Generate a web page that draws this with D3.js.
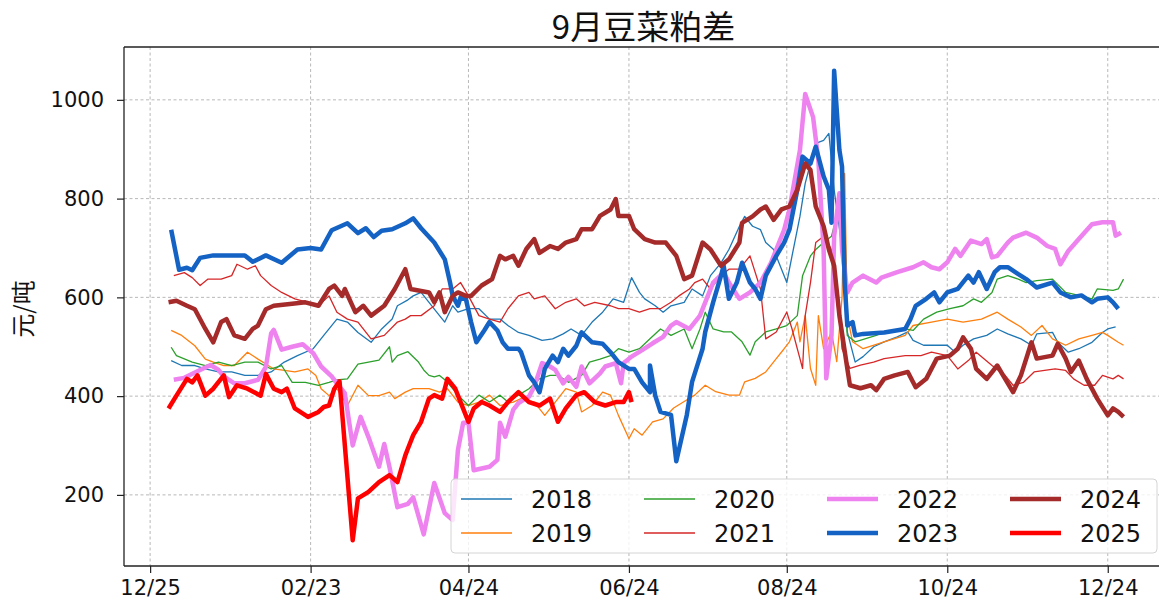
<!DOCTYPE html>
<html>
<head>
<meta charset="utf-8">
<script src="https://cdn.jsdelivr.net/npm/d3@7"></script>
<style>
  html, body { margin: 0; padding: 0; background: #fff; }
  svg { display: block; }
</style>
</head>
<body>
<svg id="chart" width="1159" height="601"></svg>
<script>
// ---- DATA (x = day of year, Jan 1 = 1; y = 元/吨) ----
const years = ["2018", "2019", "2020", "2021", "2022", "2023", "2024", "2025"];
const colors = ["#1f77b4", "#ff7f0e", "#2ca02c", "#d62728", "#ee82ee", "#1462c4", "#a52a2a", "#ff0000"];
const widths = [1.3, 1.3, 1.3, 1.3, 4.5, 4.5, 4.5, 4.5];

const xTickDays = [-6, 55, 115, 176, 236, 297, 358];
const xTickLabels = ["12/25", "02/23", "04/24", "06/24", "08/24", "10/24", "12/24"];
const yTicks = [200, 400, 600, 800, 1000];

const s2018 = [[2,472],[6,462],[11,462],[15,455],[20,449],[25,449],[30,442],[35,442],[40,449],[45,469],[50,482],[56,496],[60,523],[65,556],[69,550],[73,529],[78,509],[82,536],[86,556],[88,583],[92,595],[94,603],[97,610],[100,590],[104,563],[106,550],[109,583],[111,570],[115,577],[119,577],[123,556],[127,556],[130,543],[134,529],[138,523],[143,513],[147,516],[151,526],[154,536],[158,523],[162,550],[166,570],[170,597],[174,590],[177,640],[180,610],[182,597],[186,583],[189,570],[192,583],[197,590],[200,617],[204,603],[207,644],[211,670],[214,697],[218,744],[220,764],[223,744],[226,737],[228,711],[231,697],[234,657],[236,630],[238,684],[241,764],[243,831],[247,912],[250,918],[252,932],[254,818],[257,700],[259,530],[262,469],[265,480],[269,500],[273,510],[278,520],[282,530],[284,513],[288,503],[297,503],[300,489],[303,503],[307,516],[312,523],[316,536],[320,526],[325,516],[329,503],[331,526],[337,529],[339,509],[343,489],[347,496],[352,509],[356,529],[358,536],[361,540]];

const s2019 = [[2,533],[6,523],[11,502],[15,475],[18,469],[22,462],[26,462],[31,489],[35,475],[38,465],[41,455],[45,452],[49,449],[54,455],[57,442],[59,415],[62,401],[65,415],[69,381],[73,422],[77,401],[81,401],[85,408],[87,395],[91,408],[94,415],[100,415],[104,408],[107,415],[111,388],[115,381],[119,388],[123,402],[127,381],[132,388],[135,395],[140,388],[144,361],[148,388],[152,415],[156,408],[158,368],[162,381],[166,408],[169,402],[172,361],[176,314],[178,334],[181,321],[185,348],[189,354],[193,376],[197,389],[201,402],[205,422],[209,409],[214,402],[218,402],[220,429],[224,436],[228,449],[232,476],[235,496],[237,510],[240,550],[241,510],[243,563],[245,456],[247,422],[248,563],[250,496],[253,530],[255,470],[257,600],[258,851],[259,563],[261,510],[265,496],[273,510],[281,523],[284,543],[291,550],[297,556],[303,550],[310,556],[316,570],[320,556],[325,540],[329,523],[333,543],[337,516],[342,503],[347,516],[352,523],[356,529],[358,523],[362,509],[364,503]];

const s2020 = [[2,499],[4,482],[10,469],[15,462],[20,469],[25,462],[30,469],[35,469],[40,455],[44,462],[48,428],[53,428],[58,422],[62,428],[65,433],[69,435],[73,465],[77,469],[81,473],[85,500],[86,469],[88,482],[92,490],[96,469],[98,453],[100,442],[102,439],[104,442],[106,433],[107,428],[111,402],[115,381],[119,402],[123,388],[127,402],[130,388],[134,402],[138,415],[142,435],[146,442],[149,442],[153,428],[158,442],[161,469],[165,475],[169,482],[172,496],[176,489],[180,496],[184,516],[188,536],[192,523],[197,536],[200,496],[203,536],[205,570],[208,536],[212,530],[215,530],[219,510],[222,483],[224,510],[228,530],[232,536],[236,543],[240,563],[242,644],[245,684],[247,697],[250,711],[253,724],[254,744],[256,764],[259,523],[262,510],[270,523],[273,530],[281,536],[284,533],[288,556],[293,570],[298,577],[303,583],[307,597],[310,590],[314,610],[316,637],[320,644],[324,637],[327,630],[331,634],[337,637],[342,610],[347,604],[352,597],[354,617],[360,614],[362,617],[364,637]];

const s2021 = [[3,644],[7,650],[10,640],[13,624],[16,637],[21,637],[25,644],[27,667],[31,657],[34,664],[36,644],[40,624],[44,610],[49,597],[54,590],[58,583],[62,603],[65,570],[69,556],[73,550],[78,516],[83,523],[88,550],[91,556],[93,563],[97,563],[102,583],[105,617],[109,617],[112,630],[115,603],[119,563],[123,556],[127,550],[130,577],[134,603],[138,610],[140,597],[144,603],[148,577],[152,590],[156,597],[159,583],[163,590],[169,583],[172,577],[176,577],[180,570],[184,577],[188,577],[192,590],[195,603],[199,617],[201,630],[204,637],[207,617],[211,644],[214,657],[218,657],[222,684],[226,617],[228,516],[232,530],[236,570],[238,536],[241,476],[242,456],[243,563],[245,630],[247,711],[250,724],[253,697],[255,630],[257,496],[260,456],[264,463],[269,469],[273,476],[281,482],[287,482],[291,489],[297,482],[301,455],[305,472],[308,489],[314,462],[319,442],[322,422],[326,428],[330,449],[334,452],[338,455],[342,452],[345,435],[349,422],[353,422],[356,442],[360,435],[362,442],[364,435]];

const s2022 = [[3,433],[7,437],[13,453],[17,463],[20,453],[22,440],[26,426],[30,426],[35,433],[38,459],[40,527],[41,534],[44,494],[48,500],[52,505],[56,487],[59,460],[63,440],[65,426],[68,406],[71,300],[74,358],[77,317],[81,257],[83,303],[85,256],[88,175],[92,182],[94,195],[98,120],[102,224],[106,163],[109,149],[111,291],[113,346],[115,346],[117,250],[123,257],[126,271],[127,346],[129,318],[132,372],[134,386],[138,399],[140,419],[143,467],[146,460],[148,453],[151,426],[153,439],[156,419],[158,460],[161,426],[165,446],[167,460],[171,467],[173,426],[174,467],[177,480],[181,493],[185,507],[189,520],[192,543],[194,550],[199,536],[203,563],[205,590],[208,630],[212,650],[214,630],[218,597],[222,610],[226,630],[230,670],[232,697],[235,737],[237,778],[241,898],[243,1012],[246,965],[248,878],[250,697],[251,436],[253,523],[254,724],[256,811],[257,697],[259,610],[261,630],[265,644],[270,630],[272,640],[278,651],[284,661],[288,671],[291,661],[294,657],[297,671],[300,698],[302,684],[306,715],[310,708],[312,718],[314,681],[316,684],[320,711],[322,721],[327,731],[331,721],[335,704],[338,698],[340,667],[343,694],[347,718],[352,748],[356,752],[360,752],[361,725],[363,731]];

const s2023 = [[2,737],[5,656],[8,660],[10,655],[13,680],[18,685],[25,685],[30,685],[33,672],[38,685],[44,670],[50,697],[55,700],[59,697],[63,736],[69,750],[73,730],[76,740],[79,722],[82,735],[86,738],[91,750],[94,760],[97,740],[102,711],[106,677],[108,630],[109,603],[111,583],[112,600],[114,597],[116,550],[118,509],[121,533],[123,550],[126,533],[128,509],[130,496],[134,496],[135,489],[138,442],[140,428],[142,408],[144,455],[147,482],[149,469],[151,496],[153,482],[156,502],[158,529],[162,509],[166,506],[169,489],[172,469],[176,455],[178,455],[181,428],[184,408],[184,462],[186,401],[188,368],[192,362],[194,268],[198,362],[200,429],[204,496],[205,530],[208,590],[211,644],[212,664],[214,597],[217,630],[219,670],[222,630],[224,617],[226,597],[228,644],[232,684],[235,711],[237,737],[240,818],[242,885],[245,871],[247,905],[250,845],[252,818],[253,751],[254,1059],[256,898],[257,865],[258,630],[259,543],[261,550],[262,523],[265,526],[273,529],[281,536],[283,556],[285,583],[289,597],[292,610],[294,590],[297,610],[301,617],[305,644],[307,630],[309,651],[312,617],[315,651],[317,661],[320,661],[324,647],[327,637],[331,620],[337,630],[340,610],[344,600],[348,604],[352,590],[354,597],[358,600],[360,590],[362,577]];

const s2024 = [[1,590],[4,593],[8,583],[11,576],[15,536],[18,509],[21,550],[23,556],[26,523],[30,516],[33,536],[35,543],[38,576],[41,583],[48,587],[53,590],[58,583],[62,617],[64,624],[67,603],[68,617],[72,570],[75,583],[78,563],[83,583],[87,617],[91,657],[93,617],[96,614],[100,610],[102,590],[104,610],[106,570],[109,603],[111,610],[114,603],[116,603],[120,624],[124,637],[127,684],[129,677],[132,684],[134,664],[137,698],[140,718],[142,690],[146,704],[149,698],[152,711],[156,718],[158,738],[162,738],[165,765],[169,778],[171,799],[172,765],[176,765],[178,738],[182,718],[186,711],[190,711],[194,684],[197,637],[200,644],[204,711],[207,697],[211,664],[214,677],[218,711],[219,751],[223,764],[226,778],[228,784],[231,757],[234,778],[237,784],[240,818],[243,871],[245,858],[247,784],[250,744],[252,697],[254,664],[256,563],[259,456],[260,422],[264,416],[268,422],[270,412],[273,435],[277,442],[282,449],[285,418],[289,435],[293,476],[298,482],[301,496],[303,519],[306,496],[308,455],[312,435],[316,462],[319,435],[322,408],[325,442],[329,509],[331,476],[337,482],[339,506],[342,476],[344,449],[347,472],[350,435],[354,395],[358,361],[360,375],[362,368],[364,358]];

const s2025 = [[1,375],[4,401],[8,435],[10,428],[12,442],[15,401],[18,415],[22,442],[24,398],[27,422],[31,415],[36,401],[38,445],[41,415],[44,408],[46,415],[49,375],[54,358],[58,368],[60,378],[62,381],[64,415],[66,430],[71,108],[73,193],[77,206],[81,226],[85,240],[88,226],[91,280],[92,294],[94,321],[97,348],[100,395],[102,402],[105,395],[107,435],[110,415],[112,388],[115,348],[117,375],[120,388],[123,381],[127,368],[130,388],[134,408],[138,388],[142,381],[146,395],[149,348],[152,375],[156,402],[159,408],[163,388],[167,381],[171,388],[174,388],[176,408],[177,388]];

const seriesData = [s2018, s2019, s2020, s2021, s2022, s2023, s2024, s2025];

// ---- LAYOUT ----
const svg = d3.select("#chart");
const L = 124, T = 47, B = 566, R = 1163;
const x = d3.scaleLinear().domain([-15.93, 379.0]).range([L, R]);
const y = d3.scaleLinear().domain([56, 1107]).range([B, T]);

svg.append("defs").append("clipPath").attr("id", "plotclip")
  .append("rect").attr("x", L).attr("y", T).attr("width", R - L).attr("height", B - T);

// grid
const grid = svg.append("g").attr("stroke", "#b0b0b0").attr("stroke-width", 0.9).attr("stroke-dasharray", "3,2.5");
grid.selectAll(".vg").data(xTickDays).join("line")
  .attr("x1", d => x(d)).attr("x2", d => x(d)).attr("y1", T).attr("y2", B);
grid.selectAll(".hg").data(yTicks).join("line")
  .attr("x1", L).attr("x2", R).attr("y1", d => y(d)).attr("y2", d => y(d));

// lines
const line = d3.line().x(d => x(d[0])).y(d => y(d[1]));
const lines = svg.append("g").attr("clip-path", "url(#plotclip)");
seriesData.forEach((s, i) => {
  lines.append("path").datum(s)
    .attr("d", line)
    .attr("fill", "none")
    .attr("stroke", colors[i])
    .attr("stroke-width", widths[i])
    .attr("stroke-linejoin", "round")
    .attr("stroke-linecap", "butt");
});

// axes
const fontTick = "'DejaVu Sans', sans-serif";
const yAxis = svg.append("g").attr("transform", `translate(${L},0)`)
  .call(d3.axisLeft(y).tickValues(yTicks).tickSize(7).tickPadding(13).tickFormat(d3.format("d")));
const xAxis = svg.append("g").attr("transform", `translate(0,${B})`)
  .call(d3.axisBottom(x).tickValues(xTickDays).tickSize(7).tickPadding(7).tickFormat((d, i) => xTickLabels[i]));
[yAxis, xAxis].forEach(g => {
  g.select(".domain").remove();
  g.selectAll(".tick line").attr("stroke", "#222").attr("stroke-width", 1.2);
  g.selectAll(".tick text").attr("fill", "#111").style("font-family", fontTick).style("font-size", "21px");
});

// spines
const sp = svg.append("g").attr("stroke", "#222").attr("stroke-width", 1.3).attr("fill", "none");
sp.append("line").attr("x1", L).attr("x2", L).attr("y1", T).attr("y2", B);
sp.append("line").attr("x1", L).attr("x2", R).attr("y1", T).attr("y2", T);
sp.append("line").attr("x1", L).attr("x2", R).attr("y1", B).attr("y2", B);
sp.append("line").attr("x1", R).attr("x2", R).attr("y1", T).attr("y2", B);

// title
svg.append("text").attr("x", (L + R) / 2).attr("y", 39).attr("text-anchor", "middle")
  .style("font-family", "'Noto Sans CJK SC', sans-serif").style("font-size", "33px").attr("fill", "#111")
  .text("9月豆菜粕差");

// y label
svg.append("text").attr("transform", "translate(32,309) rotate(-90)").attr("text-anchor", "middle")
  .style("font-family", "'Noto Sans CJK SC', sans-serif").style("font-size", "24px").attr("fill", "#111")
  .text("元/吨");

// legend
const lg = svg.append("g");
lg.append("rect").attr("x", 451).attr("y", 479).attr("width", 706).attr("height", 74).attr("rx", 4)
  .attr("fill", "#fff").attr("fill-opacity", 0.8).attr("stroke", "#d4d4d4").attr("stroke-width", 1);
years.forEach((yr, i) => {
  const col = Math.floor(i / 2), row = i % 2;
  const gx = 461 + col * 183, gy = 499 + row * 34;
  lg.append("line").attr("x1", gx).attr("x2", gx + 51).attr("y1", gy).attr("y2", gy)
    .attr("stroke", colors[i]).attr("stroke-width", widths[i]);
  lg.append("text").attr("x", gx + 70).attr("y", gy).attr("dy", "0.36em")
    .style("font-family", fontTick).style("font-size", "24px").attr("fill", "#111").text(yr);
});
</script>
</body>
</html>
